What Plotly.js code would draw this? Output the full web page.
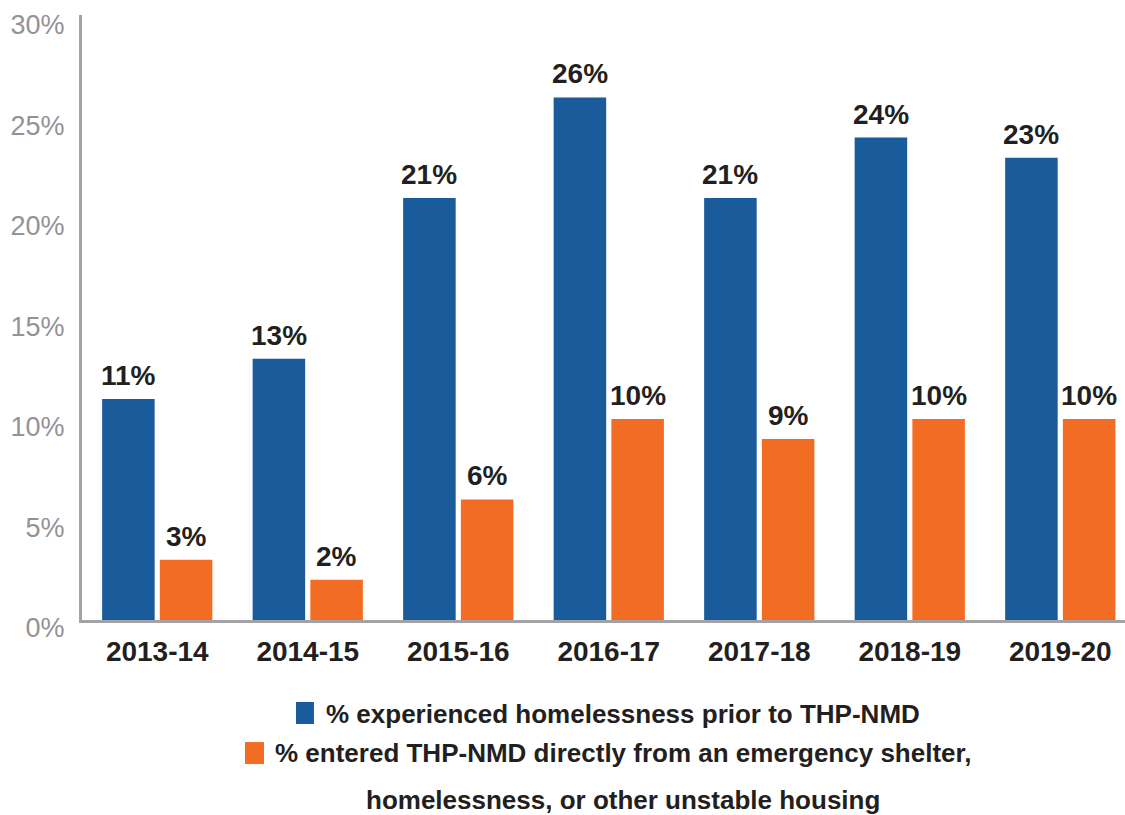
<!DOCTYPE html>
<html>
<head>
<meta charset="utf-8">
<script src="https://cdn.plot.ly/plotly-3.0.1.min.js"></script>
<style>html,body{margin:0;padding:0;background:#fff;}#chart{width:1125px;height:815px;}</style>
</head>
<body>
<div id="chart"></div>
<script>
const categories = ['2013-14', '2014-15', '2015-16', '2016-17', '2017-18', '2018-19', '2019-20'];
const experiencedHomelessness = [11, 13, 21, 26, 21, 24, 23];
const enteredFromShelter = [3, 2, 6, 10, 9, 10, 10];
const seriesNames = [
  '% experienced homelessness prior to THP-NMD',
  '% entered THP-NMD directly from an emergency shelter,<br>homelessness, or other unstable housing'
];
const yTickValues = [0, 5, 10, 15, 20, 25, 30];
const yTickLabels = ['0%', '5%', '10%', '15%', '20%', '25%', '30%'];

const BLUE = '#195b9b';
const ORANGE = '#f36c23';
const DARK = '#231f20';
const GRAY = '#939397';
const FONT = '"Liberation Sans", Arial, sans-serif';

const traces = [
  {type: 'bar', x: categories, y: experiencedHomelessness, name: seriesNames[0],
   marker: {color: BLUE}, hoverinfo: 'none'},
  {type: 'bar', x: categories, y: enteredFromShelter, name: seriesNames[1],
   marker: {color: ORANGE}, hoverinfo: 'none'}
];

const annotations = [];
const seriesVals = [experiencedHomelessness, enteredFromShelter];
const shifts = [-29, 29];
seriesVals.forEach((vals, s) => {
  vals.forEach((v, i) => {
    annotations.push({
      x: categories[i], y: v, xref: 'x', yref: 'y',
      text: '<b>' + v + '%</b>', showarrow: false,
      xanchor: 'center', yanchor: 'bottom', xshift: shifts[s], yshift: 6,
      font: {family: FONT, size: 28, color: DARK}
    });
  });
});

// legend text (centered rows)
const legendLines = [seriesNames[0]].concat(seriesNames[1].split('<br>'));
const legendY = [-0.1554, -0.2198, -0.2975];
legendLines.forEach((t, k) => {
  annotations.push({
    xref: 'paper', yref: 'paper', x: 0.5187, y: legendY[k], xanchor: 'center', yanchor: 'middle',
    text: '<b>' + t + '</b>', showarrow: false,
    font: {family: FONT, size: 26, color: DARK}
  });
});

const shapes = [
  {type: 'rect', xref: 'paper', yref: 'paper', x0: 0.2052, x1: 0.2224, y0: -0.1355, y1: -0.1719,
   fillcolor: BLUE, line: {width: 0}},
  {type: 'rect', xref: 'paper', yref: 'paper', x0: 0.1563, x1: 0.1745, y0: -0.2017, y1: -0.238,
   fillcolor: ORANGE, line: {width: 0}}
];

const layout = {
  width: 1125, height: 815,
  margin: {l: 82, r: 0, t: 15, b: 195},
  paper_bgcolor: '#fff', plot_bgcolor: '#fff',
  showlegend: false,
  barmode: 'group', bargap: 0.233, bargroupgap: 0.09,
  font: {family: FONT},
  xaxis: {
    type: 'category', range: [-0.5, 6.43],
    showline: true, linecolor: '#a3a3a7', linewidth: 3,
    ticks: '', showgrid: false, zeroline: false,
    tickfont: {family: FONT, size: 28, color: DARK, weight: 'bold'},
    ticklabelstandoff: 4
  },
  yaxis: {
    range: [0, 30.1],
    showline: true, linecolor: '#a3a3a7', linewidth: 3,
    ticks: '', showgrid: false, zeroline: false,
    tickvals: yTickValues, ticktext: yTickLabels,
    tickfont: {family: FONT, size: 27, color: GRAY},
    ticklabelstandoff: 9, ticklabelshift: 8
  },
  annotations: annotations,
  shapes: shapes
};

Plotly.newPlot('chart', traces, layout, {displayModeBar: false, staticPlot: true});
</script>
</body>
</html>
